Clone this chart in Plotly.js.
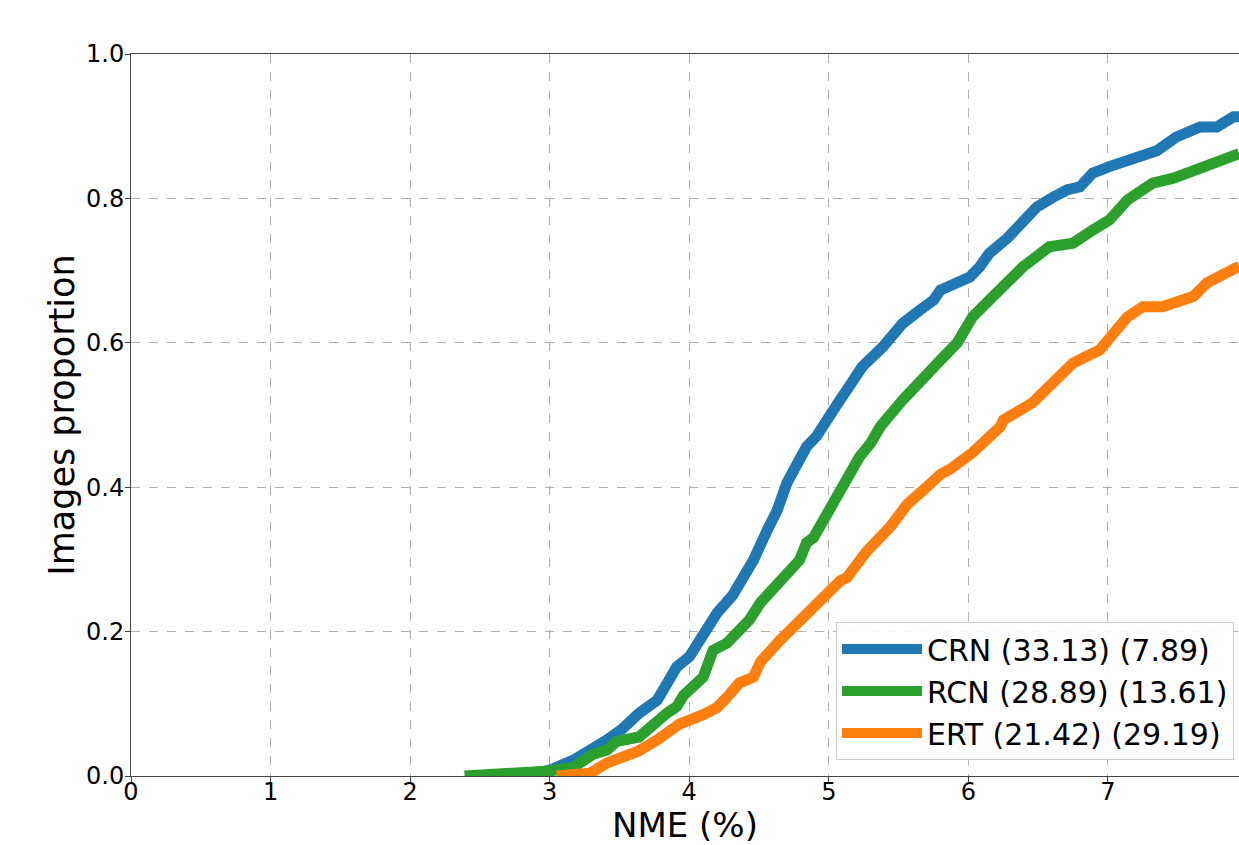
<!DOCTYPE html>
<html>
<head>
<meta charset="utf-8">
<script src="https://cdn.plot.ly/plotly-3.0.1.min.js"></script>
<style>html,body{margin:0;padding:0;background:#fff;}#chart{width:1239px;height:845px;}</style>
</head>
<body>
<div id="chart"></div>
<script>
// Series: CED curves (NME % vs proportion of images)
const crnX = [2.81, 2.93, 3.00, 3.17, 3.31, 3.41, 3.52, 3.64, 3.77, 3.85, 3.91, 4.00, 4.10, 4.20, 4.31, 4.41, 4.46, 4.56, 4.63, 4.70, 4.79, 4.84, 4.91, 4.99, 5.06, 5.13, 5.24, 5.39, 5.53, 5.65, 5.75, 5.80, 5.94, 6.01, 6.08, 6.15, 6.28, 6.39, 6.49, 6.61, 6.71, 6.80, 6.89, 7.01, 7.14, 7.28, 7.35, 7.49, 7.58, 7.66, 7.78, 7.90, 7.94];
const crnY = [0, 0.004, 0.008, 0.022, 0.036, 0.050, 0.065, 0.087, 0.105, 0.130, 0.151, 0.165, 0.198, 0.226, 0.250, 0.280, 0.299, 0.341, 0.368, 0.406, 0.438, 0.456, 0.470, 0.497, 0.515, 0.535, 0.567, 0.595, 0.627, 0.645, 0.659, 0.673, 0.683, 0.691, 0.705, 0.724, 0.745, 0.766, 0.788, 0.802, 0.812, 0.816, 0.835, 0.844, 0.852, 0.861, 0.866, 0.885, 0.893, 0.899, 0.899, 0.913, 0.913];

const rcnX = [2.39, 2.93, 3.00, 3.17, 3.31, 3.41, 3.48, 3.64, 3.77, 3.84, 3.91, 3.96, 4.10, 4.13, 4.17, 4.27, 4.36, 4.43, 4.51, 4.56, 4.67, 4.79, 4.84, 4.89, 4.99, 5.08, 5.22, 5.30, 5.37, 5.53, 5.65, 5.80, 5.92, 6.03, 6.15, 6.23, 6.39, 6.58, 6.75, 6.89, 7.01, 7.14, 7.32, 7.47, 7.61, 7.78, 7.92, 7.94];
const rcnY = [0, 0.004, 0.007, 0.012, 0.030, 0.036, 0.048, 0.054, 0.078, 0.087, 0.096, 0.112, 0.137, 0.155, 0.174, 0.184, 0.202, 0.216, 0.240, 0.250, 0.276, 0.299, 0.323, 0.330, 0.364, 0.396, 0.442, 0.461, 0.484, 0.521, 0.548, 0.576, 0.600, 0.636, 0.659, 0.673, 0.705, 0.733, 0.738, 0.756, 0.770, 0.798, 0.821, 0.828, 0.839, 0.849, 0.860, 0.862];

const ertX = [3.05, 3.29, 3.41, 3.52, 3.63, 3.77, 3.81, 3.93, 4.10, 4.20, 4.27, 4.36, 4.46, 4.51, 4.65, 4.79, 4.94, 5.08, 5.13, 5.27, 5.44, 5.56, 5.70, 5.80, 5.87, 6.03, 6.23, 6.25, 6.46, 6.61, 6.75, 6.94, 7.06, 7.14, 7.25, 7.39, 7.61, 7.71, 7.92, 7.94];
const ertY = [0, 0.004, 0.018, 0.026, 0.034, 0.050, 0.055, 0.072, 0.085, 0.095, 0.109, 0.129, 0.137, 0.158, 0.188, 0.216, 0.244, 0.270, 0.275, 0.311, 0.345, 0.376, 0.400, 0.418, 0.425, 0.448, 0.484, 0.493, 0.517, 0.548, 0.572, 0.590, 0.618, 0.636, 0.650, 0.650, 0.664, 0.683, 0.704, 0.705];

const seriesNames = ["CRN (33.13) (7.89)", "RCN (28.89) (13.61)", "ERT (21.42) (29.19)"];
const seriesColors = ["#1f77b4", "#2ca02c", "#ff7f0e"];
const xTickVals = [0, 1, 2, 3, 4, 5, 6, 7];
const yTickVals = [0, 0.2, 0.4, 0.6, 0.8, 1.0];

const FONT = "DejaVu Sans, sans-serif";
const xs = [crnX, rcnX, ertX], ys = [crnY, rcnY, ertY];
const traces = xs.map((x, i) => ({
  x: x, y: ys[i], type: "scatter", mode: "lines", name: seriesNames[i],
  line: {color: seriesColors[i], width: 11}
}));

const layout = {
  width: 1239, height: 845,
  margin: {l: 131, r: 0, t: 54, b: 69},
  paper_bgcolor: "#fff", plot_bgcolor: "#fff",
  font: {family: FONT, color: "#000"},
  showlegend: true,
  xaxis: {
    range: [0, 7.939], tickvals: xTickVals, ticktext: xTickVals.map(String),
    showgrid: true, gridcolor: "#b0b0b0", griddash: "dash", gridwidth: 1,
    zeroline: false, showline: true, linecolor: "#444", linewidth: 1, mirror: true,
    ticks: "outside", ticklen: 5, tickcolor: "#444",
    ticklabelstandoff: -11,
    tickfont: {size: 24, family: FONT, color: "#000"},
    title: {text: "NME (%)", font: {size: 34, family: FONT, color: "#000"}, standoff: 16},
    automargin: false
  },
  yaxis: {
    range: [0, 1], tickvals: yTickVals, ticktext: yTickVals.map(v => v.toFixed(1)),
    showgrid: true, gridcolor: "#b0b0b0", griddash: "dash", gridwidth: 1,
    zeroline: false, showline: true, linecolor: "#444", linewidth: 1,
    ticks: "outside", ticklen: 5, tickcolor: "#444",
    ticklabelstandoff: -4,
    tickfont: {size: 24, family: FONT, color: "#000"},
    title: {text: "Images proportion", font: {size: 35, family: FONT, color: "#000"}, standoff: 0},
    automargin: false
  },
  legend: {
    x: 0.9955, y: 0.022, xanchor: "right", yanchor: "bottom",
    bgcolor: "rgba(255,255,255,0.9)", bordercolor: "#cccccc", borderwidth: 1,
    font: {size: 30, family: FONT, color: "#000"},
    itemwidth: 80
  }
};

Plotly.newPlot("chart", traces, layout, {displayModeBar: false, staticPlot: true});
</script>
</body>
</html>
